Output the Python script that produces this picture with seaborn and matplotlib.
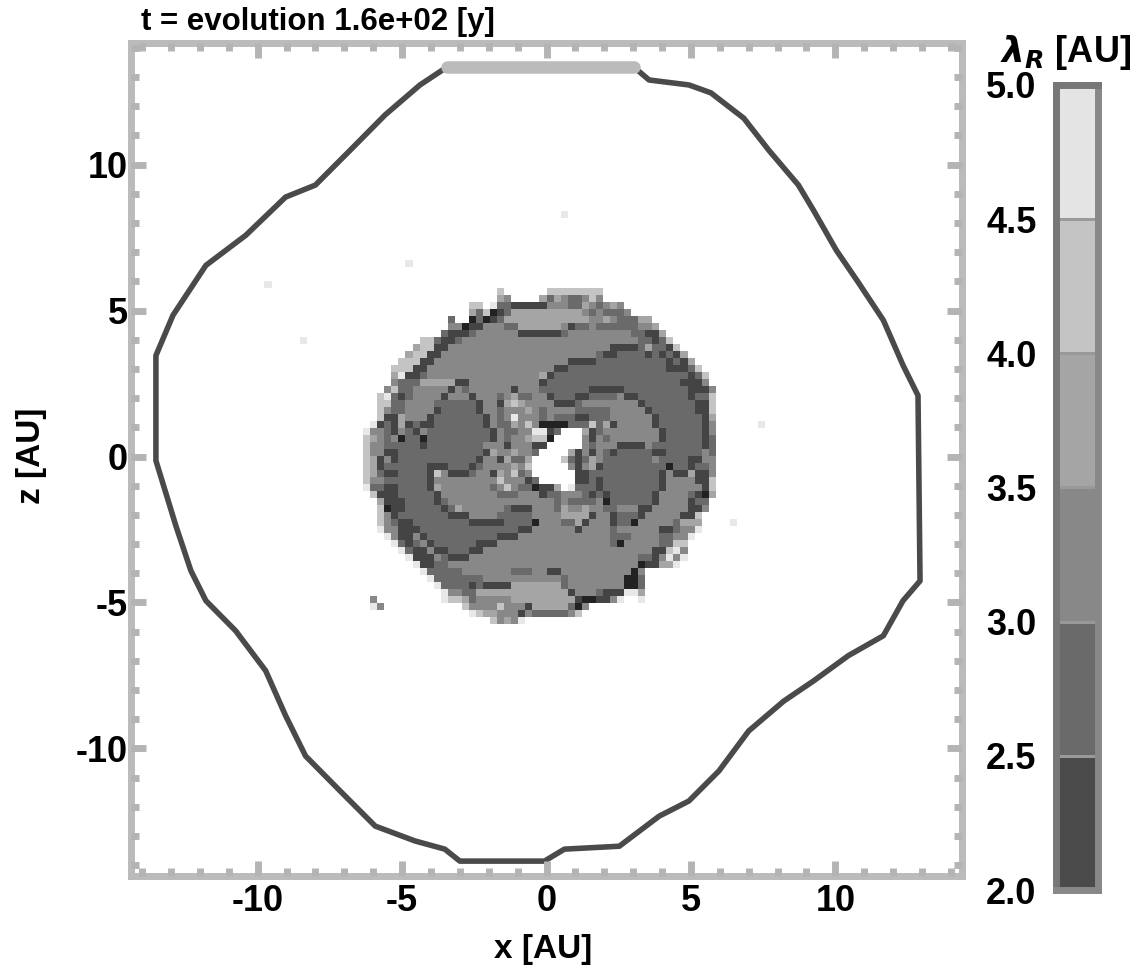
import numpy as np
import matplotlib
matplotlib.use("Agg")
import matplotlib.pyplot as plt
from matplotlib.colors import ListedColormap
import seaborn as sns

title = "t = evolution 1.6e+02 [y]"
x_label = "x [AU]"
z_label = "z [AU]"
cbar_label = r"$\lambda_R$ [AU]"

major_ticks = [-10, -5, 0, 5, 10]
major_labels = ["-10", "-5", "0", "5", "10"]
minor_ticks = [t for t in range(-14, 15) if t % 5 != 0]

band_values = [4.75, 4.25, 3.75, 3.25, 2.75, 2.25]
band_ticks = ["5.0", "4.5", "4.0", "3.5", "3.0", "2.5", "2.0"]
band_colors = ["#4b4b4b", "#6a6a6a", "#888888", "#a5a5a5", "#c4c4c4", "#e4e4e4"]

# grey level per cell of the inner disk, 0 darkest .. 7 blank
disk_rows = [
    "7777777777777777777 5 777777 55555555 77777777777777777",
    "7777777777777777777 43 7777 424322353 77777777777777777",
    "777777777777777 55 7 6 22 11111 333 22 432343 77777777777777",
    "777777777777777 4250124 444444444 3232223 7777777777777",
    "777777777777 2 77 020124 4444444444 4 33 4 3 222 44 7777777777",
    "777777777777 3301133322 444444 31223 22222 2 33 4 777777777",
    "77777777777 2 111 2 33333 3 111111 2 333333333 22114 77777777",
    "77777777 55 2 11 2 3333333333333333333333333 2212 5 7777777",
    "7777777 4 55 11 33333333333333333333333 1111 2 4 2 2 1 5 777777",
    "777777 4 55 11 3333333333333333333333 2 1 1 2222 1 2 1 2 1 4 77777",
    "77777 555 11 3333333333333333333 1111 222222222 2121 4 7777",
    "7777 555 11 33333333333333333 3 11 2 222222222222 21112 5 777",
    "7777 46112 3333333333333333 41 2222222222222222 222 1 2 5 77",
    "7777 3222 44444 11 3333333333 1 2222222222222222222 111 3 77",
    "777 3522 33333 1323 33333 1 333 22 22222 11111 222222222 111 3 7",
    "77 56212 3333 1 333 1 333 234 22 33 1 222 11 2222 3 11 2222222 122 5 7",
    "77 5522 3333 22 2222 1 33 1 45433 33 111 2 3333333 3 1 222222 2 11 5 7",
    "77 5322 333 3 1 22222 1 33 23 33 43 2 3333 22222 33333 1 222222 11 5 7",
    "77 5 11 4 3 33 1 2222222 1 3 2 3 6 333 23 222 11 222 3 33333 1 222222 1 4 7",
    "7 6 121 4 1 2 11 2222222 1 3 22 4 3 5 3 0000 222 5 2 4 1 33333 1 222222 1 3 7",
    "6 33 21 3 2 1 3 222222222 1 3 22 33 66 1 2 777 4 1 2 33 333333 1 22222 1 3 7",
    "5 4 32 3 0 22 0 222222222 1 32 3 3 4 55 0 7777 3 1 3 2 3333333 1 22222 1 2 7",
    "5 3 3 222 22 1 22222222 33 3 1 333 11 77777 3 2 333 1111 3 2222222 1 2 7",
    "5 33 11 222222222222 1 4 3 3 43 3 2 7777 4 1 3 1 3 2 1 22222 11 22222 3 2 7",
    "5 4 1 3 1 22222222222 13314224 7777 5212432 222222 3 2222 11 33 7",
    "54122 2222 111 222 1 2 333 3 4 3 5 77777 3 1 3 4 1 2 22222222 0 22 1 22 3 7",
    "54211 2222 1 5 3 111 2 33 1 4 3 5 2 3 777777 1122 22222222 1 3 11 4 11 3 7",
    "53322 2222 1 33 333333 3533312 77777 1121 22222222 1 3333 11 5 7",
    "62211 2222 1 4 3333333 235322 011476 2221 2222222 21 33333 1 5 7",
    "75111 22222 1 33333333 222 333 122 333 2 121 222222 1 3333 2 1 0 4 7",
    "77 4 111 2222 12 33333333333333 323 2222 302 22222 1 3333 122 77",
    "77 5011 22222 12 4 333333 2 111 33 324334 33 22 333 11 33333 113 77",
    "77 5312 222222 111 3333 22 222 3 33 3 4 44 4 1 33 1 222 1 33333 11 5 777",
    "77 53211 22222222 11111 2222 0 333 22 41 333 1 22 0 33333 2 444 777",
    "77 6 33 111 22222222222222 11 3 33333 1 3333 2 333333 112 33 6 777",
    "777 6 3 11 3 1 2222222222 111 3333333333333 222 3333 22 33 6 7777",
    "7777 6 2 1 2 3 1 222222 111 3 333333333333333 2 0 33333 22 55 77777",
    "77777 6 2 1 1 3 11 222 11 333333333333333333333333 11563 77777",
    "777777 6 111 3 2 111 333333333333333333333333 22 1 3 6 3 6 77777",
    "7777777 6 1122 33333333333333333333333333 3 0 11 44 6 777777",
    "77777777 6 222 22 3333333 222 33 11 3333333333 0 3 77777777777",
    "777777777 6 222 2222 3333 3333333 2 33333333 00 2 77777777777",
    "7777777777 6 222212 1111 4 444444 2 33333333 002 77777777777",
    "77777777777 6 33 22 4444444444444 1 333 2 111 664 77777777777",
    "7 3 777777777 6 55 4 2 33333 44444444 4 1 00 11 3 6 77 6 77777777777",
    "7 6 3 77777777777 5 3 333 5 3 33 1 4444 4 2 0 3 7777777777777777777",
    "777777777777777 65 44 333 1 3 22222 3 5 77777777777777777777",
    "777777777777777777 53436 7777777777777777777777777777",
]
disk_col = 33
disk_row = 35

# isolated cells outside the disk
stray_x = [0.62, -4.79, -9.72, -8.45, 7.52, 6.55]
stray_z = [8.34, 6.62, 5.86, 3.91, 1.0, -2.2]

# outer lambda contour in AU, running clockwise from the top
contour_x = [-3.45, 3.03, 3.55, 4.93, 5.69, 6.83, 7.69, 8.72, 9.24, 10.03, 10.79, 11.66, 12.34,
             12.86, 12.93, 12.34, 11.66, 10.45, 9.24, 8.21, 7.0, 5.97, 4.93, 3.9, 2.52, 0.62,
             -0.07, -3.0, -3.52, -4.55, -5.93, -7.14, -8.34, -9.03, -9.72, -10.76, -11.79,
             -12.31, -12.83, -13.52, -13.52, -12.93, -11.79, -10.41, -9.03, -8.0, -6.79, -5.59,
             -4.38, -3.45]
contour_z = [13.34, 13.34, 12.9, 12.73, 12.46, 11.59, 10.5, 9.3, 8.44, 7.07, 5.97, 4.67, 3.13,
             2.09, -4.26, -4.94, -6.14, -6.82, -7.69, -8.38, -9.4, -10.77, -11.8, -12.32,
             -13.35, -13.45, -13.86, -13.86, -13.45, -13.17, -12.66, -11.46, -10.26, -8.88,
             -7.34, -5.97, -4.94, -3.91, -2.37, -0.14, 3.46, 4.84, 6.55, 7.58, 8.89, 9.3, 10.5,
             11.7, 12.73, 13.34]
cap_x = [-3.45, 3.03]
cap_z = [13.34, 13.34]

sns.set_theme(style="white")
plt.rcParams["font.family"] = ["Liberation Sans", "DejaVu Sans"]
plt.rcParams["font.weight"] = "bold"
plt.rcParams["mathtext.fontset"] = "dejavusans"

W, H = 1146, 972
N_COLS, N_ROWS = 118, 119
X_LIM = 14.4
Z_TOP, Z_BOT = 14.15, -14.37


def to_col(v):
    return (np.asarray(v, dtype=float) + X_LIM) / (2 * X_LIM) * N_COLS


def to_row(v):
    return (Z_TOP - np.asarray(v, dtype=float)) / (Z_TOP - Z_BOT) * N_ROWS


def box(left, top, right, bottom):
    return [left / W, 1 - bottom / H, (right - left) / W, (bottom - top) / H]


field = np.full((N_ROWS, N_COLS), 7.0)
for r, row in enumerate(disk_rows):
    cells = row.replace(" ", "")
    assert len(cells) == 51, (r, len(cells))
    for c, ch in enumerate(cells):
        field[disk_row + r, disk_col + c] = int(ch)
for sx, sz in zip(stray_x, stray_z):
    field[int(to_row(sz)), int(to_col(sx))] = 6

greys = ListedColormap(["#222222", "#444444", "#6a6a6a", "#888888", "#a5a5a5", "#c4c4c4", "#e8e8e8", "#ffffff"])

fig = plt.figure(figsize=(W / 100, H / 100), dpi=100)
ax = fig.add_axes(box(130.5, 43.5, 962.5, 876))
sns.heatmap(field, ax=ax, cmap=greys, vmin=-0.5, vmax=7.5, cbar=False, xticklabels=False, yticklabels=False)

sns.lineplot(x=to_col(contour_x), y=to_row(contour_z), ax=ax, sort=False, estimator=None, color="#4a4a4a", linewidth=4)
sns.lineplot(x=to_col(cap_x), y=to_row(cap_z), ax=ax, sort=False, estimator=None, color="#bbbbbb", linewidth=9)

ax.set_xlim(0, N_COLS)
ax.set_ylim(N_ROWS, 0)
ax.set_axisbelow(False)
ax.set_xticks(to_col(major_ticks), major_labels)
ax.set_yticks(to_row(major_ticks), major_labels, rotation=0)
ax.set_xticks(to_col(minor_ticks), minor=True)
ax.set_yticks(to_row(minor_ticks), minor=True)
ax.tick_params(which="major", direction="in", length=11, width=5, color="#b4b4b4", top=True, right=True,
               bottom=True, left=True, labelsize=26, labelcolor="black")
ax.tick_params(axis="x", which="major", pad=6)
ax.tick_params(axis="y", which="major", pad=2)
ax.tick_params(which="minor", direction="in", length=6, width=5, color="#b4b4b4", top=True, right=True,
               bottom=True, left=True)
for spine in ax.spines.values():
    spine.set_visible(True)
    spine.set_color("#bbbbbb")
    spine.set_linewidth(5)

# colour bar, labels on the left
cax = fig.add_axes(box(1056, 85, 1098, 890))
sns.heatmap(np.array(band_values).reshape(-1, 1), ax=cax, cmap=ListedColormap(band_colors), vmin=2, vmax=5, cbar=False,
            xticklabels=False, yticklabels=False, linewidths=2, linecolor="#999999")
cax.set_yticks(range(len(band_ticks)), band_ticks, rotation=0)
cax.tick_params(axis="y", left=False, labelsize=26, pad=8, labelcolor="black")
for name, spine in cax.spines.items():
    spine.set_visible(True)
    spine.set_color("#777777" if name in ("left", "top") else "#888888")
    spine.set_linewidth(5)

fig.text(141 / W, 1 - 30 / H, title, fontsize=22.5, ha="left", va="baseline", color="black")
fig.text(543 / W, 1 - 958 / H, x_label, fontsize=24, ha="center", va="baseline", color="black")
fig.text(47 / W, 1 - 456 / H, z_label, fontsize=24, ha="right", va="center", rotation=90, color="black")
fig.text(1000 / W, 1 - 62 / H, cbar_label, fontsize=26, ha="left", va="baseline", color="black")

fig.savefig("out.png", dpi=100)
